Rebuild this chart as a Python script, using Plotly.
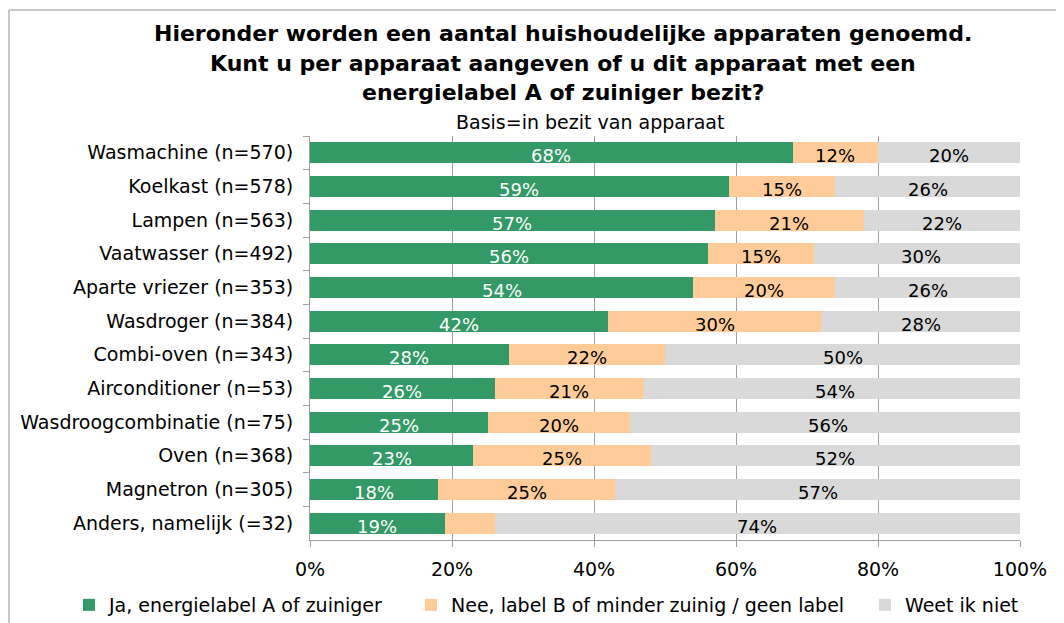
import plotly.graph_objects as go

categories = ["Wasmachine (n=570)", "Koelkast (n=578)", "Lampen (n=563)", "Vaatwasser (n=492)",
              "Aparte vriezer (n=353)", "Wasdroger (n=384)", "Combi-oven (n=343)",
              "Airconditioner (n=53)", "Wasdroogcombinatie (n=75)", "Oven (n=368)",
              "Magnetron (n=305)", "Anders, namelijk (=32)"]
ja = [68, 59, 57, 56, 54, 42, 28, 26, 25, 23, 18, 19]
nee = [12, 15, 21, 15, 20, 30, 22, 21, 20, 25, 25, 7]
weet = [20, 26, 22, 30, 26, 28, 50, 54, 56, 52, 57, 74]
nee_show = [True] * 11 + [False]

series_names = ["Ja, energielabel A of zuiniger",
                "Nee, label B of minder zuinig / geen label",
                "Weet ik niet"]
colors = ["#339966", "#FFCC99", "#D9D9D9"]
tick_vals = [0, 0.2, 0.4, 0.6, 0.8, 1.0]
tick_text = ["0%", "20%", "40%", "60%", "80%", "100%"]

title_lines = ["Hieronder worden een aantal huishoudelijke apparaten genoemd.",
               "Kunt u per apparaat aangeven of u dit apparaat met een",
               "energielabel A of zuiniger bezit?"]
subtitle = "Basis=in bezit van apparaat"

FONT = "DejaVu Sans, Arial, sans-serif"
OFF = 8  # page body margin
W, H = 1064 - OFF, 623 - OFF
# plot area in screen pixels -> figure pixels
PL, PR, PT, PB = 310 - OFF, 1020 - OFF, 136 - OFF, 540 - OFF


def scr_to_paper(sx, sy):
    px, py = sx - OFF, sy - OFF
    return (px - PL) / (PR - PL), (PB - py) / (PB - PT)


fig = go.Figure()
data = [ja, nee, weet]
legend_ids = ["legend", "legend2", "legend3"]
for name, vals, col, lg in zip(series_names, data, colors, legend_ids):
    fig.add_trace(go.Bar(
        y=categories, x=[v / 100 for v in vals], name=name, orientation="h",
        marker=dict(color=col, line=dict(width=0)),
        hoverinfo="skip", legend=lg,
    ))

# Value labels (slightly below centre, as in the reference)
for i, cat in enumerate(categories):
    start = 0
    for s, vals in enumerate(data):
        v = vals[i]
        if not (s == 1 and not nee_show[i]):
            fig.add_annotation(
                x=(start + v / 2) / 100, y=cat, xref="x", yref="y",
                text=f"{v}%", showarrow=False, yshift=-3,
                font=dict(family=FONT, size=18, color="white" if s == 0 else "black"),
            )
        start += v

for line, sy in zip(title_lines, [33, 63, 93]):
    ax, ay = scr_to_paper(563, sy)
    fig.add_annotation(x=ax, y=ay, xref="paper", yref="paper",
                       text=f"<b>{line}</b>", showarrow=False,
                       xanchor="center", yanchor="middle",
                       font=dict(family=FONT, size=22, color="black"))
ax, ay = scr_to_paper(590, 122)
fig.add_annotation(x=ax, y=ay, xref="paper", yref="paper",
                   text=subtitle, showarrow=False,
                   xanchor="center", yanchor="middle",
                   font=dict(family=FONT, size=19, color="black"))


def legend_at(sx):
    lx, ly = scr_to_paper(sx, 605)
    return dict(orientation="h", x=lx, y=ly, xanchor="left", yanchor="middle",
                font=dict(family=FONT, size=19), itemwidth=30,
                bgcolor="rgba(0,0,0,0)")


fig.update_layout(
    width=W, height=H,
    barmode="stack", bargap=0.38,
    margin=dict(l=PL, r=W - PR, t=PT, b=H - PB, autoexpand=False),
    paper_bgcolor="white", plot_bgcolor="white",
    font=dict(family=FONT, size=19, color="black"),
    showlegend=True,
    legend=legend_at(69),
    legend2=legend_at(411),
    legend3=legend_at(865),
    xaxis=dict(range=[0, 1], tickvals=tick_vals, ticktext=tick_text,
               showgrid=True, gridcolor="#A0A0A0", gridwidth=1,
               showline=True, linecolor="#A0A0A0", linewidth=1,
               ticks="outside", ticklen=6, tickcolor="#A0A0A0",
               ticklabelstandoff=6,
               zeroline=False, tickfont=dict(size=19), fixedrange=True,
               automargin=False),
    yaxis=dict(autorange="reversed", showline=True, linecolor="#A0A0A0", linewidth=1,
               ticks="outside", ticklen=6, tickcolor="#A0A0A0", tickson="boundaries",
               ticklabelstandoff=12,
               showgrid=False, tickfont=dict(size=19), fixedrange=True,
               automargin=False),
)

# outer frame (top and left lines)
x0, y0 = scr_to_paper(OFF + 1, 10)
x1, _ = scr_to_paper(1064 + 10, 10)
_, y1 = scr_to_paper(10, 623 + 10)
fig.add_shape(type="line", xref="paper", yref="paper", x0=x0, x1=x1, y0=y0, y1=y0,
              line=dict(color="#C8C8C8", width=2))
fig.add_shape(type="line", xref="paper", yref="paper", x0=x0, x1=x0, y0=y0, y1=y1,
              line=dict(color="#C8C8C8", width=2))

fig.write_html("out.html")
